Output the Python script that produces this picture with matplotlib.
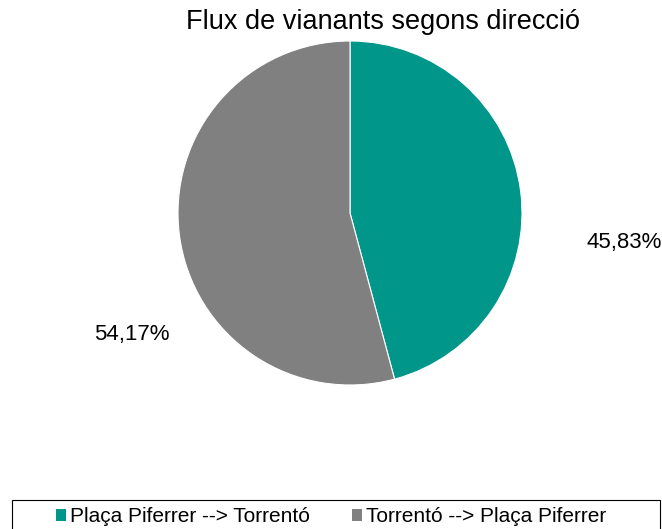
import matplotlib.pyplot as plt
from matplotlib.patches import Rectangle, Patch

plt.rcParams['font.family'] = ['Liberation Sans', 'DejaVu Sans']

categories = ['Plaça Piferrer --> Torrentó', 'Torrentó --> Plaça Piferrer']
values = [45.83, 54.17]
labels = ['45,83%', '54,17%']
colors = ['#00968A', '#808080']

fig = plt.figure(figsize=(6.62, 5.29), dpi=100)

# pie area: centre ~ (350, 213) px, radius ~172 px
ax = fig.add_axes([178 / 662, (529 - 213 - 172) / 529, 344 / 662, 344 / 529])
ax.pie(values, colors=colors, startangle=90, counterclock=False,
       wedgeprops=dict(linewidth=0.8, edgecolor='white'))
ax.set_xlim(-1, 1)
ax.set_ylim(-1, 1)
ax.set_aspect('auto')

# percentage labels outside the pie
ax.text(1.593, -0.174, labels[0], ha='center', va='center', fontsize=16)
ax.text(-1.267, -0.709, labels[1], ha='center', va='center', fontsize=16)

fig.text(383 / 662, 1 - 22 / 529, 'Flux de vianants segons direcció',
         ha='center', va='center', fontsize=19.5)

# legend box
fig.patches.append(Rectangle((12 / 662, -0.05), 648 / 662, 0.05 + 29 / 529,
                             transform=fig.transFigure, fill=False,
                             edgecolor='black', linewidth=0.8))
handles = [Patch(facecolor=c, edgecolor='none') for c in colors]
fig.legend(handles, categories, loc='center', ncol=2,
           bbox_to_anchor=(331 / 662, 1 - 517 / 529), frameon=False,
           fontsize=15, handlelength=0.5, handleheight=0.5,
           handletextpad=0.2, columnspacing=2.0, borderpad=0)

fig.savefig('out.png', dpi=100)
